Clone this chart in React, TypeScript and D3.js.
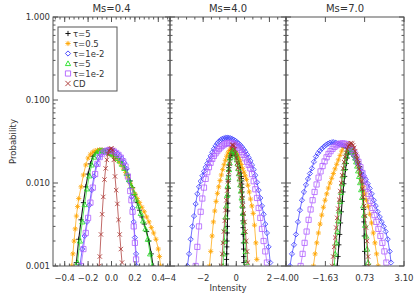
import React from "react";
import * as d3 from "d3";

type Pt = [number, number];

// ---------- chart text / axes ----------
const panelTitles = ["Ms=0.4", "Ms=4.0", "Ms=7.0"];
const panelDomains: [number, number][] = [[-0.5, 0.5], [-4, 3], [-4, 3.1]];
const panelMajorTicks = [[-0.4, -0.2, 0, 0.2, 0.4], [-4, -2, 0, 2], [-4, -1.63, 0.73, 3.1]];
const panelTickLabels = [
  ["−0.4", "−0.2", "0.0", "0.2", "0.4"],
  ["−4", "−2", "0", "2"],
  ["−4.00", "−1.63", "0.73", "3.10"],
];
const panelMinorStep = [0.04, 0.5, 0];
const yMajorTicks = [0.001, 0.01, 0.1, 1];
const yTickLabels = ["0.001", "0.010", "0.100", "1.000"];
const xTitle = "Intensity";
const yTitle = "Probability";

const seriesNames = ["τ=5", "τ=0.5", "τ=1e-2", "τ=5", "τ=1e-2", "CD"];
const seriesColors = ["#000000", "#ffa500", "#3a3aff", "#22e022", "#b060ff", "#a8302c"];
const seriesSymbols = ["plus", "star", "diamond", "triangle", "square", "cross"];

// ---------- data: [intensity, probability] ----------
// Ms = 0.4
const p1Black: Pt[] = [[-0.30,0.0011],[-0.28,0.0021],[-0.26,0.0036],[-0.24,0.0058],[-0.22,0.0090],[-0.20,0.0128],[-0.18,0.0170],[-0.16,0.0210],[-0.14,0.0232],[-0.12,0.0243],[-0.10,0.0248],[-0.08,0.0248],[-0.06,0.0244],[-0.04,0.0238],[-0.02,0.0232],[0.00,0.0226],[0.02,0.0218],[0.04,0.0208],[0.06,0.0196],[0.08,0.0180],[0.10,0.0164],[0.12,0.0145],[0.14,0.0125],[0.16,0.0106],[0.18,0.0088],[0.20,0.0072],[0.22,0.0058],[0.24,0.0047],[0.26,0.0039],[0.28,0.0032],[0.30,0.0026],[0.32,0.0020],[0.34,0.0014],[0.355,0.0010]];
const p1Orange: Pt[] = [[-0.34,0.0010],[-0.33,0.0014],[-0.32,0.0020],[-0.31,0.0028],[-0.30,0.0040],[-0.29,0.0052],[-0.28,0.0065],[-0.26,0.0090],[-0.24,0.0125],[-0.22,0.0165],[-0.20,0.0200],[-0.18,0.0222],[-0.16,0.0236],[-0.14,0.0244],[-0.12,0.0248],[-0.10,0.0250],[-0.08,0.0248],[-0.06,0.0244],[-0.04,0.0238],[-0.02,0.0230],[0.00,0.0222],[0.02,0.0212],[0.04,0.0200],[0.06,0.0186],[0.08,0.0170],[0.10,0.0152],[0.12,0.0134],[0.14,0.0116],[0.16,0.0099],[0.18,0.0085],[0.20,0.0074],[0.22,0.0065],[0.24,0.0058],[0.26,0.0051],[0.28,0.0045],[0.30,0.0039],[0.32,0.0034],[0.34,0.0029],[0.36,0.0025],[0.38,0.0021],[0.40,0.0016],[0.41,0.0013],[0.42,0.0010]];
const p1Blue: Pt[] = [[-0.27,0.0010],[-0.25,0.0016],[-0.23,0.0023],[-0.21,0.0034],[-0.19,0.0054],[-0.17,0.0082],[-0.15,0.0120],[-0.13,0.0165],[-0.11,0.0200],[-0.09,0.0222],[-0.07,0.0236],[-0.05,0.0244],[-0.03,0.0248],[-0.01,0.0248],[0.01,0.0244],[0.03,0.0236],[0.05,0.0226],[0.07,0.0212],[0.09,0.0195],[0.11,0.0175],[0.13,0.0148],[0.15,0.0105],[0.17,0.0068],[0.18,0.0050],[0.19,0.0034],[0.20,0.0022],[0.21,0.0014],[0.215,0.0010]];
const p1Green: Pt[] = [[-0.29,0.0011],[-0.27,0.0020],[-0.25,0.0034],[-0.23,0.0055],[-0.21,0.0085],[-0.19,0.0122],[-0.17,0.0165],[-0.15,0.0205],[-0.13,0.0230],[-0.11,0.0242],[-0.09,0.0246],[-0.07,0.0245],[-0.05,0.0240],[-0.03,0.0234],[-0.01,0.0228],[0.01,0.0220],[0.03,0.0210],[0.05,0.0198],[0.07,0.0184],[0.09,0.0168],[0.11,0.0150],[0.13,0.0130],[0.15,0.0110],[0.17,0.0092],[0.19,0.0077],[0.21,0.0064],[0.23,0.0053],[0.25,0.0043],[0.27,0.0035],[0.29,0.0028],[0.31,0.0021],[0.33,0.0014],[0.35,0.0010]];
const p1Purple: Pt[] = [[-0.26,0.0010],[-0.24,0.0016],[-0.22,0.0025],[-0.20,0.0038],[-0.18,0.0058],[-0.16,0.0088],[-0.14,0.0128],[-0.12,0.0170],[-0.10,0.0205],[-0.08,0.0226],[-0.06,0.0238],[-0.04,0.0245],[-0.02,0.0248],[0.00,0.0246],[0.02,0.0240],[0.04,0.0230],[0.06,0.0218],[0.08,0.0202],[0.10,0.0182],[0.12,0.0158],[0.14,0.0120],[0.16,0.0080],[0.17,0.0062],[0.18,0.0045],[0.19,0.0030],[0.20,0.0019],[0.21,0.0012]];
const p1CD: Pt[] = [[-0.105,0.0010],[-0.10,0.0013],[-0.09,0.0024],[-0.08,0.0042],[-0.07,0.0068],[-0.06,0.0110],[-0.05,0.0150],[-0.04,0.0190],[-0.03,0.0222],[-0.02,0.0245],[-0.01,0.0258],[0.00,0.0262],[0.01,0.0250],[0.02,0.0190],[0.03,0.0120],[0.04,0.0082],[0.05,0.0056],[0.06,0.0036],[0.07,0.0024],[0.08,0.0016],[0.09,0.0011]];

// Ms = 4.0
const p2Black: Pt[] = [[-0.60,0.0010],[-0.59,0.0012],[-0.58,0.0014],[-0.57,0.0017],[-0.56,0.0020],[-0.55,0.0025],[-0.54,0.0030],[-0.53,0.0037],[-0.52,0.0046],[-0.51,0.0057],[-0.50,0.0070],[-0.49,0.0086],[-0.48,0.0105],[-0.47,0.0122],[-0.46,0.0140],[-0.45,0.0153],[-0.44,0.0165],[-0.40,0.0190],[-0.36,0.0205],[-0.32,0.0215],[-0.28,0.0222],[-0.24,0.0227],[-0.20,0.0230],[-0.16,0.0231],[-0.12,0.0230],[-0.08,0.0228],[-0.04,0.0224],[0.00,0.0219],[0.04,0.0212],[0.08,0.0204],[0.12,0.0194],[0.16,0.0182],[0.20,0.0168],[0.24,0.0152],[0.28,0.0132],[0.30,0.0120],[0.31,0.0113],[0.32,0.0106],[0.33,0.0097],[0.34,0.0088],[0.35,0.0078],[0.36,0.0068],[0.37,0.0059],[0.38,0.0050],[0.39,0.0042],[0.40,0.0035],[0.41,0.0029],[0.42,0.0024],[0.43,0.0019],[0.44,0.0016],[0.45,0.0013],[0.46,0.0011]];
const p2Orange: Pt[] = [[-1.62,0.0010],[-1.54,0.0015],[-1.46,0.0023],[-1.38,0.0034],[-1.30,0.0046],[-1.22,0.0060],[-1.14,0.0075],[-1.06,0.0090],[-0.98,0.0107],[-0.90,0.0125],[-0.82,0.0145],[-0.74,0.0166],[-0.66,0.0188],[-0.58,0.0210],[-0.50,0.0230],[-0.42,0.0246],[-0.34,0.0256],[-0.26,0.0260],[-0.18,0.0256],[-0.10,0.0246],[-0.02,0.0234],[0.06,0.0220],[0.14,0.0202],[0.22,0.0185],[0.30,0.0167],[0.38,0.0150],[0.46,0.0135],[0.54,0.0122],[0.62,0.0110],[0.70,0.0094],[0.78,0.0078],[0.86,0.0064],[0.94,0.0053],[1.02,0.0043],[1.10,0.0031],[1.18,0.0019],[1.24,0.0012]];
const p2Blue: Pt[] = [[-2.95,0.0010],[-2.85,0.0014],[-2.75,0.0021],[-2.65,0.0030],[-2.55,0.0040],[-2.45,0.0056],[-2.35,0.0074],[-2.25,0.0090],[-2.15,0.0105],[-2.05,0.0122],[-1.95,0.0138],[-1.85,0.0155],[-1.75,0.0172],[-1.65,0.0190],[-1.55,0.0212],[-1.45,0.0235],[-1.35,0.0258],[-1.25,0.0280],[-1.15,0.0300],[-1.05,0.0316],[-0.95,0.0330],[-0.85,0.0340],[-0.75,0.0346],[-0.65,0.0350],[-0.55,0.0352],[-0.45,0.0350],[-0.35,0.0346],[-0.25,0.0340],[-0.15,0.0332],[-0.05,0.0322],[0.05,0.0310],[0.15,0.0298],[0.25,0.0285],[0.35,0.0270],[0.45,0.0254],[0.55,0.0238],[0.65,0.0220],[0.75,0.0202],[0.85,0.0185],[0.95,0.0165],[1.05,0.0145],[1.15,0.0124],[1.25,0.0102],[1.35,0.0082],[1.45,0.0066],[1.55,0.0053],[1.65,0.0042],[1.75,0.0032],[1.85,0.0025],[1.95,0.0017],[2.05,0.0011]];
const p2Green: Pt[] = [[-0.80,0.0010],[-0.76,0.0014],[-0.72,0.0020],[-0.68,0.0028],[-0.64,0.0039],[-0.60,0.0053],[-0.56,0.0071],[-0.52,0.0092],[-0.48,0.0117],[-0.44,0.0145],[-0.40,0.0175],[-0.36,0.0202],[-0.32,0.0222],[-0.28,0.0236],[-0.24,0.0244],[-0.20,0.0248],[-0.16,0.0248],[-0.12,0.0244],[-0.08,0.0236],[-0.04,0.0224],[0.00,0.0208],[0.04,0.0190],[0.08,0.0170],[0.12,0.0150],[0.16,0.0130],[0.20,0.0112],[0.24,0.0095],[0.28,0.0080],[0.32,0.0066],[0.36,0.0054],[0.40,0.0043],[0.44,0.0034],[0.48,0.0026],[0.52,0.0020],[0.56,0.0015],[0.60,0.0011]];
const p2Purple: Pt[] = [[-2.45,0.0010],[-2.35,0.0017],[-2.25,0.0030],[-2.15,0.0045],[-2.05,0.0065],[-1.95,0.0088],[-1.85,0.0112],[-1.75,0.0135],[-1.65,0.0155],[-1.55,0.0175],[-1.45,0.0195],[-1.35,0.0212],[-1.25,0.0228],[-1.15,0.0242],[-1.05,0.0256],[-0.95,0.0268],[-0.85,0.0280],[-0.75,0.0290],[-0.65,0.0297],[-0.55,0.0302],[-0.45,0.0304],[-0.35,0.0303],[-0.25,0.0300],[-0.15,0.0295],[-0.05,0.0288],[0.05,0.0278],[0.15,0.0266],[0.25,0.0252],[0.35,0.0236],[0.45,0.0218],[0.55,0.0198],[0.65,0.0180],[0.75,0.0165],[0.85,0.0150],[0.95,0.0128],[1.05,0.0105],[1.15,0.0084],[1.25,0.0066],[1.35,0.0050],[1.45,0.0038],[1.55,0.0028],[1.65,0.0020],[1.75,0.0015],[1.85,0.0011]];
const p2CD: Pt[] = [[-0.90,0.0010],[-0.85,0.0014],[-0.80,0.0019],[-0.75,0.0026],[-0.70,0.0035],[-0.65,0.0047],[-0.60,0.0062],[-0.55,0.0081],[-0.50,0.0105],[-0.45,0.0135],[-0.40,0.0170],[-0.35,0.0215],[-0.30,0.0260],[-0.25,0.0285],[-0.20,0.0290],[-0.15,0.0280],[-0.10,0.0255],[-0.05,0.0228],[0.00,0.0200],[0.05,0.0175],[0.10,0.0152],[0.15,0.0131],[0.20,0.0112],[0.25,0.0095],[0.30,0.0080],[0.35,0.0066],[0.40,0.0054],[0.45,0.0043],[0.50,0.0034],[0.55,0.0026],[0.60,0.0020],[0.65,0.0015],[0.70,0.0011]];

// Ms = 7.0
const p3Black: Pt[] = [[-0.92,0.0010],[-0.87,0.0013],[-0.82,0.0018],[-0.77,0.0024],[-0.72,0.0033],[-0.67,0.0045],[-0.62,0.0060],[-0.57,0.0078],[-0.52,0.0098],[-0.47,0.0120],[-0.42,0.0145],[-0.37,0.0172],[-0.32,0.0200],[-0.27,0.0222],[-0.22,0.0238],[-0.17,0.0248],[-0.12,0.0252],[-0.07,0.0250],[-0.02,0.0246],[0.03,0.0240],[0.08,0.0232],[0.13,0.0222],[0.18,0.0210],[0.23,0.0200],[0.28,0.0190],[0.33,0.0180],[0.38,0.0170],[0.43,0.0158],[0.48,0.0146],[0.53,0.0132],[0.58,0.0115],[0.61,0.0100],[0.63,0.0082],[0.65,0.0064],[0.67,0.0048],[0.69,0.0034],[0.71,0.0023],[0.73,0.0015],[0.75,0.0010]];
const p3Orange: Pt[] = [[-2.35,0.0010],[-2.25,0.0014],[-2.15,0.0019],[-2.05,0.0025],[-1.95,0.0032],[-1.85,0.0041],[-1.75,0.0051],[-1.65,0.0062],[-1.55,0.0074],[-1.45,0.0087],[-1.35,0.0100],[-1.25,0.0114],[-1.15,0.0130],[-1.05,0.0148],[-0.95,0.0168],[-0.85,0.0190],[-0.75,0.0215],[-0.65,0.0242],[-0.55,0.0268],[-0.45,0.0285],[-0.35,0.0290],[-0.25,0.0284],[-0.15,0.0268],[-0.05,0.0248],[0.05,0.0226],[0.15,0.0203],[0.25,0.0180],[0.35,0.0156],[0.45,0.0132],[0.55,0.0110],[0.65,0.0090],[0.75,0.0074],[0.85,0.0062],[0.95,0.0052],[1.05,0.0042],[1.15,0.0033],[1.25,0.0025],[1.35,0.0019],[1.45,0.0014],[1.55,0.0010]];
const p3Blue: Pt[] = [[-3.76,0.0010],[-3.64,0.0014],[-3.52,0.0018],[-3.40,0.0024],[-3.28,0.0034],[-3.16,0.0047],[-3.04,0.0062],[-2.92,0.0078],[-2.80,0.0095],[-2.68,0.0112],[-2.56,0.0130],[-2.44,0.0150],[-2.32,0.0180],[-2.20,0.0208],[-2.08,0.0228],[-1.96,0.0245],[-1.84,0.0260],[-1.72,0.0274],[-1.60,0.0287],[-1.48,0.0298],[-1.36,0.0306],[-1.24,0.0310],[-1.12,0.0310],[-1.00,0.0306],[-0.88,0.0300],[-0.76,0.0294],[-0.64,0.0288],[-0.52,0.0282],[-0.40,0.0274],[-0.28,0.0264],[-0.16,0.0250],[-0.04,0.0232],[0.08,0.0212],[0.20,0.0190],[0.32,0.0170],[0.44,0.0152],[0.56,0.0136],[0.68,0.0122],[0.80,0.0110],[0.92,0.0098],[1.04,0.0086],[1.16,0.0074],[1.28,0.0062],[1.40,0.0053],[1.52,0.0045],[1.64,0.0039],[1.76,0.0034],[1.88,0.0030],[2.00,0.0026],[2.12,0.0021],[2.24,0.0015],[2.32,0.0011]];
const p3Green: Pt[] = [[-1.10,0.0010],[-1.04,0.0014],[-0.98,0.0019],[-0.92,0.0026],[-0.86,0.0035],[-0.80,0.0046],[-0.74,0.0060],[-0.68,0.0077],[-0.62,0.0098],[-0.56,0.0122],[-0.50,0.0150],[-0.44,0.0180],[-0.38,0.0210],[-0.32,0.0236],[-0.26,0.0254],[-0.20,0.0264],[-0.14,0.0266],[-0.08,0.0262],[-0.02,0.0252],[0.04,0.0238],[0.10,0.0220],[0.16,0.0200],[0.22,0.0180],[0.28,0.0160],[0.34,0.0140],[0.40,0.0120],[0.46,0.0101],[0.52,0.0083],[0.58,0.0067],[0.64,0.0053],[0.70,0.0041],[0.76,0.0031],[0.82,0.0023],[0.88,0.0016],[0.94,0.0011]];
const p3Purple: Pt[] = [[-3.12,0.0010],[-3.00,0.0014],[-2.88,0.0019],[-2.76,0.0026],[-2.64,0.0036],[-2.52,0.0048],[-2.40,0.0062],[-2.28,0.0078],[-2.16,0.0096],[-2.04,0.0116],[-1.92,0.0138],[-1.80,0.0160],[-1.68,0.0182],[-1.56,0.0204],[-1.44,0.0224],[-1.32,0.0242],[-1.20,0.0258],[-1.08,0.0272],[-0.96,0.0284],[-0.84,0.0292],[-0.72,0.0298],[-0.60,0.0300],[-0.48,0.0298],[-0.36,0.0292],[-0.24,0.0282],[-0.12,0.0268],[0.00,0.0250],[0.12,0.0228],[0.24,0.0204],[0.36,0.0180],[0.48,0.0155],[0.60,0.0132],[0.72,0.0110],[0.84,0.0090],[0.96,0.0074],[1.08,0.0061],[1.20,0.0050],[1.32,0.0041],[1.44,0.0034],[1.56,0.0028],[1.68,0.0023],[1.80,0.0019],[1.92,0.0015],[2.04,0.0011]];
const p3CD: Pt[] = [[-1.22,0.0010],[-1.16,0.0013],[-1.10,0.0017],[-1.04,0.0022],[-0.98,0.0029],[-0.92,0.0038],[-0.86,0.0049],[-0.80,0.0063],[-0.74,0.0080],[-0.68,0.0100],[-0.62,0.0124],[-0.56,0.0150],[-0.50,0.0178],[-0.44,0.0206],[-0.38,0.0232],[-0.32,0.0255],[-0.26,0.0274],[-0.20,0.0288],[-0.14,0.0298],[-0.08,0.0302],[-0.02,0.0298],[0.04,0.0285],[0.10,0.0265],[0.16,0.0242],[0.22,0.0218],[0.28,0.0194],[0.34,0.0170],[0.40,0.0147],[0.46,0.0125],[0.52,0.0104],[0.58,0.0085],[0.64,0.0068],[0.70,0.0053],[0.76,0.0040],[0.82,0.0029],[0.88,0.0020],[0.94,0.0013],[0.98,0.0010]];

const panelData: Pt[][][] = [
  [p1Black, p1Orange, p1Blue, p1Green, p1Purple, p1CD],
  [p2Black, p2Orange, p2Blue, p2Green, p2Purple, p2CD],
  [p3Black, p3Orange, p3Blue, p3Green, p3Purple, p3CD],
];

// ---------- layout ----------
const W = 420;
const H = 300;
const plotTop = 17;
const plotBottom = 266;
const panelEdges = [53, 170, 286, 404];
const FONT = "'DejaVu Sans', sans-serif";
const AXIS = "#555555";

function symbolPath(kind: string, x: number, y: number, r: number): string {
  switch (kind) {
    case "plus":
      return `M${x - r},${y}H${x + r}M${x},${y - r}V${y + r}`;
    case "cross":
      return `M${x - r},${y - r}L${x + r},${y + r}M${x - r},${y + r}L${x + r},${y - r}`;
    case "star": {
      const d = r * 0.72;
      return `M${x - r},${y}H${x + r}M${x},${y - r}V${y + r}M${x - d},${y - d}L${x + d},${y + d}M${x - d},${y + d}L${x + d},${y - d}`;
    }
    case "diamond":
      return `M${x},${y - r}L${x + r},${y}L${x},${y + r}L${x - r},${y}Z`;
    case "triangle":
      return `M${x},${y - r}L${x + r},${y + r * 0.8}L${x - r},${y + r * 0.8}Z`;
    case "square":
      return `M${x - r},${y - r}H${x + r}V${y + r}H${x - r}Z`;
    default:
      return "";
  }
}

export default function App() {
  const y = d3.scaleLog().domain([0.001, 1]).range([plotBottom, plotTop]);
  const yMinor: number[] = [];
  [0.001, 0.01, 0.1].forEach((dec) => {
    for (let k = 2; k <= 9; k++) yMinor.push(dec * k);
  });

  return (
    <svg width={W} height={H} style={{ display: "block", position: "absolute", left: 0, top: 0 }}>
      <rect x={0} y={0} width={W} height={H} fill="#ffffff" />
      <defs>
        {panelDomains.map((_, i) => (
          <clipPath id={`clip${i}`} key={i}>
            <rect x={panelEdges[i]} y={plotTop} width={panelEdges[i + 1] - panelEdges[i]} height={plotBottom - plotTop} />
          </clipPath>
        ))}
      </defs>
      {panelDomains.map((dom, i) => {
        const x0 = panelEdges[i];
        const x1 = panelEdges[i + 1];
        const x = d3.scaleLinear().domain(dom).range([x0, x1]);
        const line = d3
          .line<Pt>()
          .x((d) => x(d[0]))
          .y((d) => y(d[1]));
        const minors: number[] = [];
        if (panelMinorStep[i] > 0) {
          const st = panelMinorStep[i];
          const first = Math.ceil(dom[0] / st - 1e-9);
          const last = Math.floor(dom[1] / st + 1e-9);
          for (let k = first; k <= last; k++) minors.push(k * st);
        }
        return (
          <g key={i}>
            <g clipPath={`url(#clip${i})`}>
              {panelData[i].map((ser, s) => (
                <g key={s}>
                  <path d={line(ser) || ""} fill="none" stroke={seriesColors[s]} strokeWidth={s === 0 ? 1.1 : 0.8} strokeOpacity={0.9} />
                  {ser.map((d, j) => (
                    <path
                      key={j}
                      d={symbolPath(seriesSymbols[s], x(d[0]), y(d[1]), seriesSymbols[s] === "cross" ? 2.2 : 2.6)}
                      fill="none"
                      stroke={seriesColors[s]}
                      strokeWidth={0.8}
                    />
                  ))}
                </g>
              ))}
            </g>
            {/* frame */}
            <rect x={x0} y={plotTop} width={x1 - x0} height={plotBottom - plotTop} fill="none" stroke={AXIS} strokeWidth={1} />
            {/* y ticks, both sides inward */}
            {yMajorTicks.map((t, k) => (
              <g key={`ym${k}`}>
                <line x1={x0} x2={x0 + 5} y1={y(t)} y2={y(t)} stroke={AXIS} />
                <line x1={x1} x2={x1 - 5} y1={y(t)} y2={y(t)} stroke={AXIS} />
              </g>
            ))}
            {yMinor.map((t, k) => (
              <g key={`yn${k}`}>
                <line x1={x0} x2={x0 + 2.5} y1={y(t)} y2={y(t)} stroke={AXIS} />
                <line x1={x1} x2={x1 - 2.5} y1={y(t)} y2={y(t)} stroke={AXIS} />
              </g>
            ))}
            {/* x ticks, top and bottom inward */}
            {panelMajorTicks[i].map((t, k) => (
              <g key={`xm${k}`}>
                <line x1={x(t)} x2={x(t)} y1={plotBottom} y2={plotBottom - 5} stroke={AXIS} />
                <line x1={x(t)} x2={x(t)} y1={plotTop} y2={plotTop + 5} stroke={AXIS} />
                <text x={x(t)} y={plotBottom + 15} fontSize={8.5} fontFamily={FONT} textAnchor="middle" fill="#333">
                  {panelTickLabels[i][k]}
                </text>
              </g>
            ))}
            {minors.map((t, k) => (
              <g key={`xn${k}`}>
                <line x1={x(t)} x2={x(t)} y1={plotBottom} y2={plotBottom - 2.5} stroke={AXIS} />
                <line x1={x(t)} x2={x(t)} y1={plotTop} y2={plotTop + 2.5} stroke={AXIS} />
              </g>
            ))}
            <text x={(x0 + x1) / 2} y={12} fontSize={10} fontFamily={FONT} textAnchor="middle" fill="#333">
              {panelTitles[i]}
            </text>
          </g>
        );
      })}
      {/* y labels */}
      {yMajorTicks.map((t, k) => (
        <text key={k} x={50} y={y(t) + 3} fontSize={8.5} fontFamily={FONT} textAnchor="end" fill="#333">
          {yTickLabels[k]}
        </text>
      ))}
      <text
        transform={`translate(16,${(plotTop + plotBottom) / 2}) rotate(-90)`}
        fontSize={8.5}
        fontFamily={FONT}
        textAnchor="middle"
        fill="#333"
      >
        {yTitle}
      </text>
      <text x={(panelEdges[1] + panelEdges[2]) / 2} y={291} fontSize={8.5} fontFamily={FONT} textAnchor="middle" fill="#333">
        {xTitle}
      </text>
      {/* legend */}
      <g>
        <rect x={58} y={27} width={59} height={64} fill="#ffffff" stroke={AXIS} strokeWidth={1} />
        {seriesNames.map((nm, s) => (
          <g key={s}>
            <path d={symbolPath(seriesSymbols[s], 68, 33.5 + s * 10, 2.6)} fill="none" stroke={seriesColors[s]} strokeWidth={0.9} />
            <text x={73} y={36.5 + s * 10} fontSize={8.5} fontFamily={FONT} fill="#333">
              {nm}
            </text>
          </g>
        ))}
      </g>
    </svg>
  );
}
